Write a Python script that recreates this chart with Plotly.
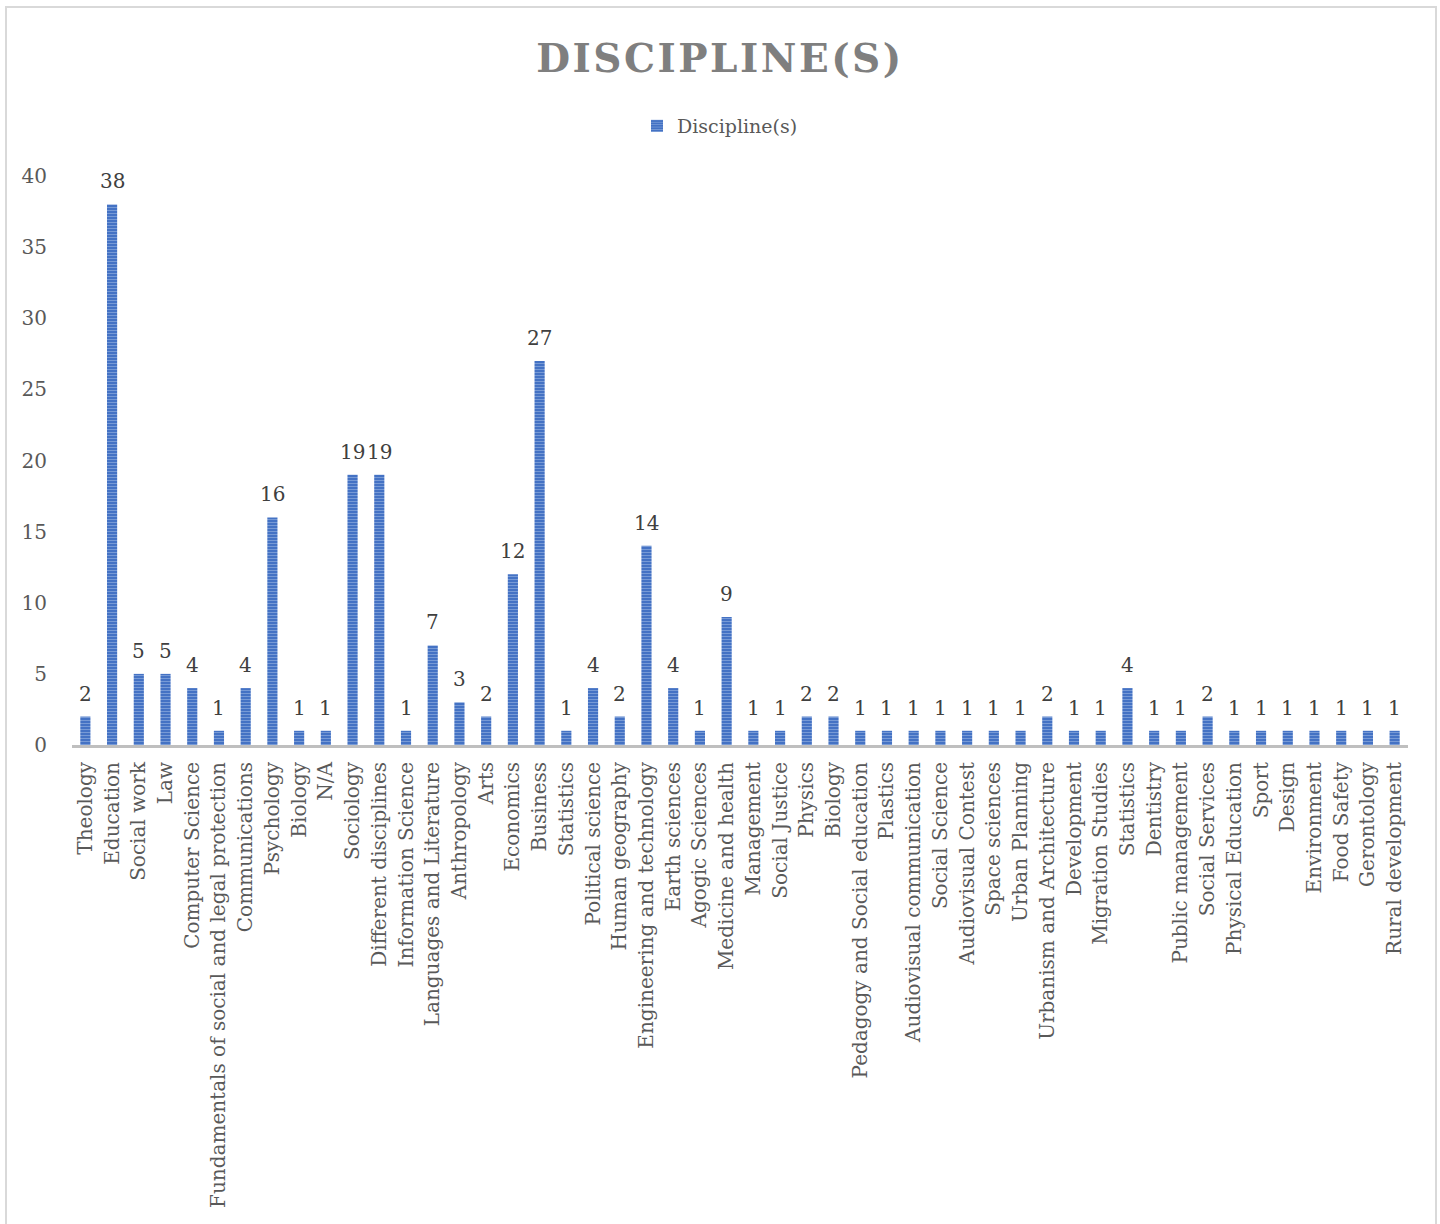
import plotly.graph_objects as go

categories = [
    "Theology", "Education", "Social work", "Law", "Computer Science",
    "Fundamentals of social and legal protection", "Communications", "Psychology",
    "Biology", "N/A", "Sociology", "Different disciplines", "Information Science",
    "Languages and Literature", "Anthropology", "Arts", "Economics", "Business",
    "Statistics", "Political science", "Human geography", "Engineering and technology",
    "Earth sciences", "Agogic Sciences", "Medicine and health", "Management",
    "Social Justice", "Physics", "Biology", "Pedagogy and Social education", "Plastics",
    "Audiovisual communication", "Social Science", "Audiovisual Contest", "Space sciences",
    "Urban Planning", "Urbanism and Architecture", "Development", "Migration Studies",
    "Statistics", "Dentistry", "Public management", "Social Services", "Physical Education",
    "Sport", "Design", "Environment", "Food Safety", "Gerontology", "Rural development",
]
values = [2, 38, 5, 5, 4, 1, 4, 16, 1, 1, 19, 19, 1, 7, 3, 2, 12, 27, 1, 4, 2, 14, 4, 1, 9,
          1, 1, 2, 2, 1, 1, 1, 1, 1, 1, 1, 2, 1, 1, 4, 1, 1, 2, 1, 1, 1, 1, 1, 1, 1]
y_ticks = [0, 5, 10, 15, 20, 25, 30, 35, 40]

positions = list(range(len(categories)))

W, H = 1440, 1224
ML, MR, MT, MB = 72, 32, 176, 479
FONT = "DejaVu Serif"

fig = go.Figure()
fig.add_trace(go.Bar(
    x=positions, y=values, name="Discipline(s)",
    marker=dict(
        color="#4472C4",
        line=dict(width=0),
        pattern=dict(shape="-", bgcolor="#4472C4", fgcolor="#A9C1E8", size=3, solidity=0.35),
    ),
))

annotations = [
    dict(x=p, y=v, xref="x", yref="y", text=str(v), showarrow=False,
         yanchor="bottom", yshift=9,
         font=dict(family=FONT, size=20, color="#404040"))
    for p, v in zip(positions, values)
]

pw = W - ML - MR
ph = H - MT - MB
x0 = (6 - ML) / pw
x1 = (1436 - ML) / pw
y1 = (H - MB - 7) / ph
y0 = (H - MB - 1240) / ph

fig.update_layout(
    width=W, height=H,
    margin=dict(l=ML, r=MR, t=MT, b=MB, pad=0),
    paper_bgcolor="white", plot_bgcolor="white",
    bargap=0.62,
    font=dict(family=FONT, color="#595959"),
    title=dict(
        text='<span style="letter-spacing:2.5px">DISCIPLINE(S)</span>',
        font=dict(family=FONT, size=39, color="#7F7F7F", weight="bold"),
        x=0.5, xref="container", xanchor="center",
        y=1 - 58 / H, yref="container", yanchor="middle",
    ),
    showlegend=True,
    legend=dict(
        orientation="h", x=0.5, xanchor="center", xref="container",
        y=1 - 126 / H, yref="container", yanchor="middle",
        font=dict(family=FONT, size=19, color="#595959"),
        itemwidth=30,
    ),
    xaxis=dict(
        range=[-0.5, len(categories) - 0.5],
        tickmode="array", tickvals=positions, ticktext=categories,
        tickangle=-90, ticks="outside", ticklen=6, tickcolor="rgba(0,0,0,0)",
        tickfont=dict(family=FONT, size=20, color="#595959"),
        showline=True, linecolor="#BFBFBF", linewidth=3,
        showgrid=False, zeroline=False, fixedrange=True,
    ),
    yaxis=dict(
        range=[0, 40], tickmode="array", tickvals=y_ticks,
        ticks="outside", ticklen=20, tickcolor="rgba(0,0,0,0)",
        tickfont=dict(family=FONT, size=20, color="#595959"),
        showline=False, showgrid=False, zeroline=False,
    ),
    annotations=annotations,
    shapes=[dict(
        type="rect", xref="paper", yref="paper",
        x0=x0, x1=x1, y0=y0, y1=y1,
        line=dict(color="#D9D9D9", width=2), fillcolor="rgba(0,0,0,0)", layer="below",
    )],
)

fig.write_html("out.html")
